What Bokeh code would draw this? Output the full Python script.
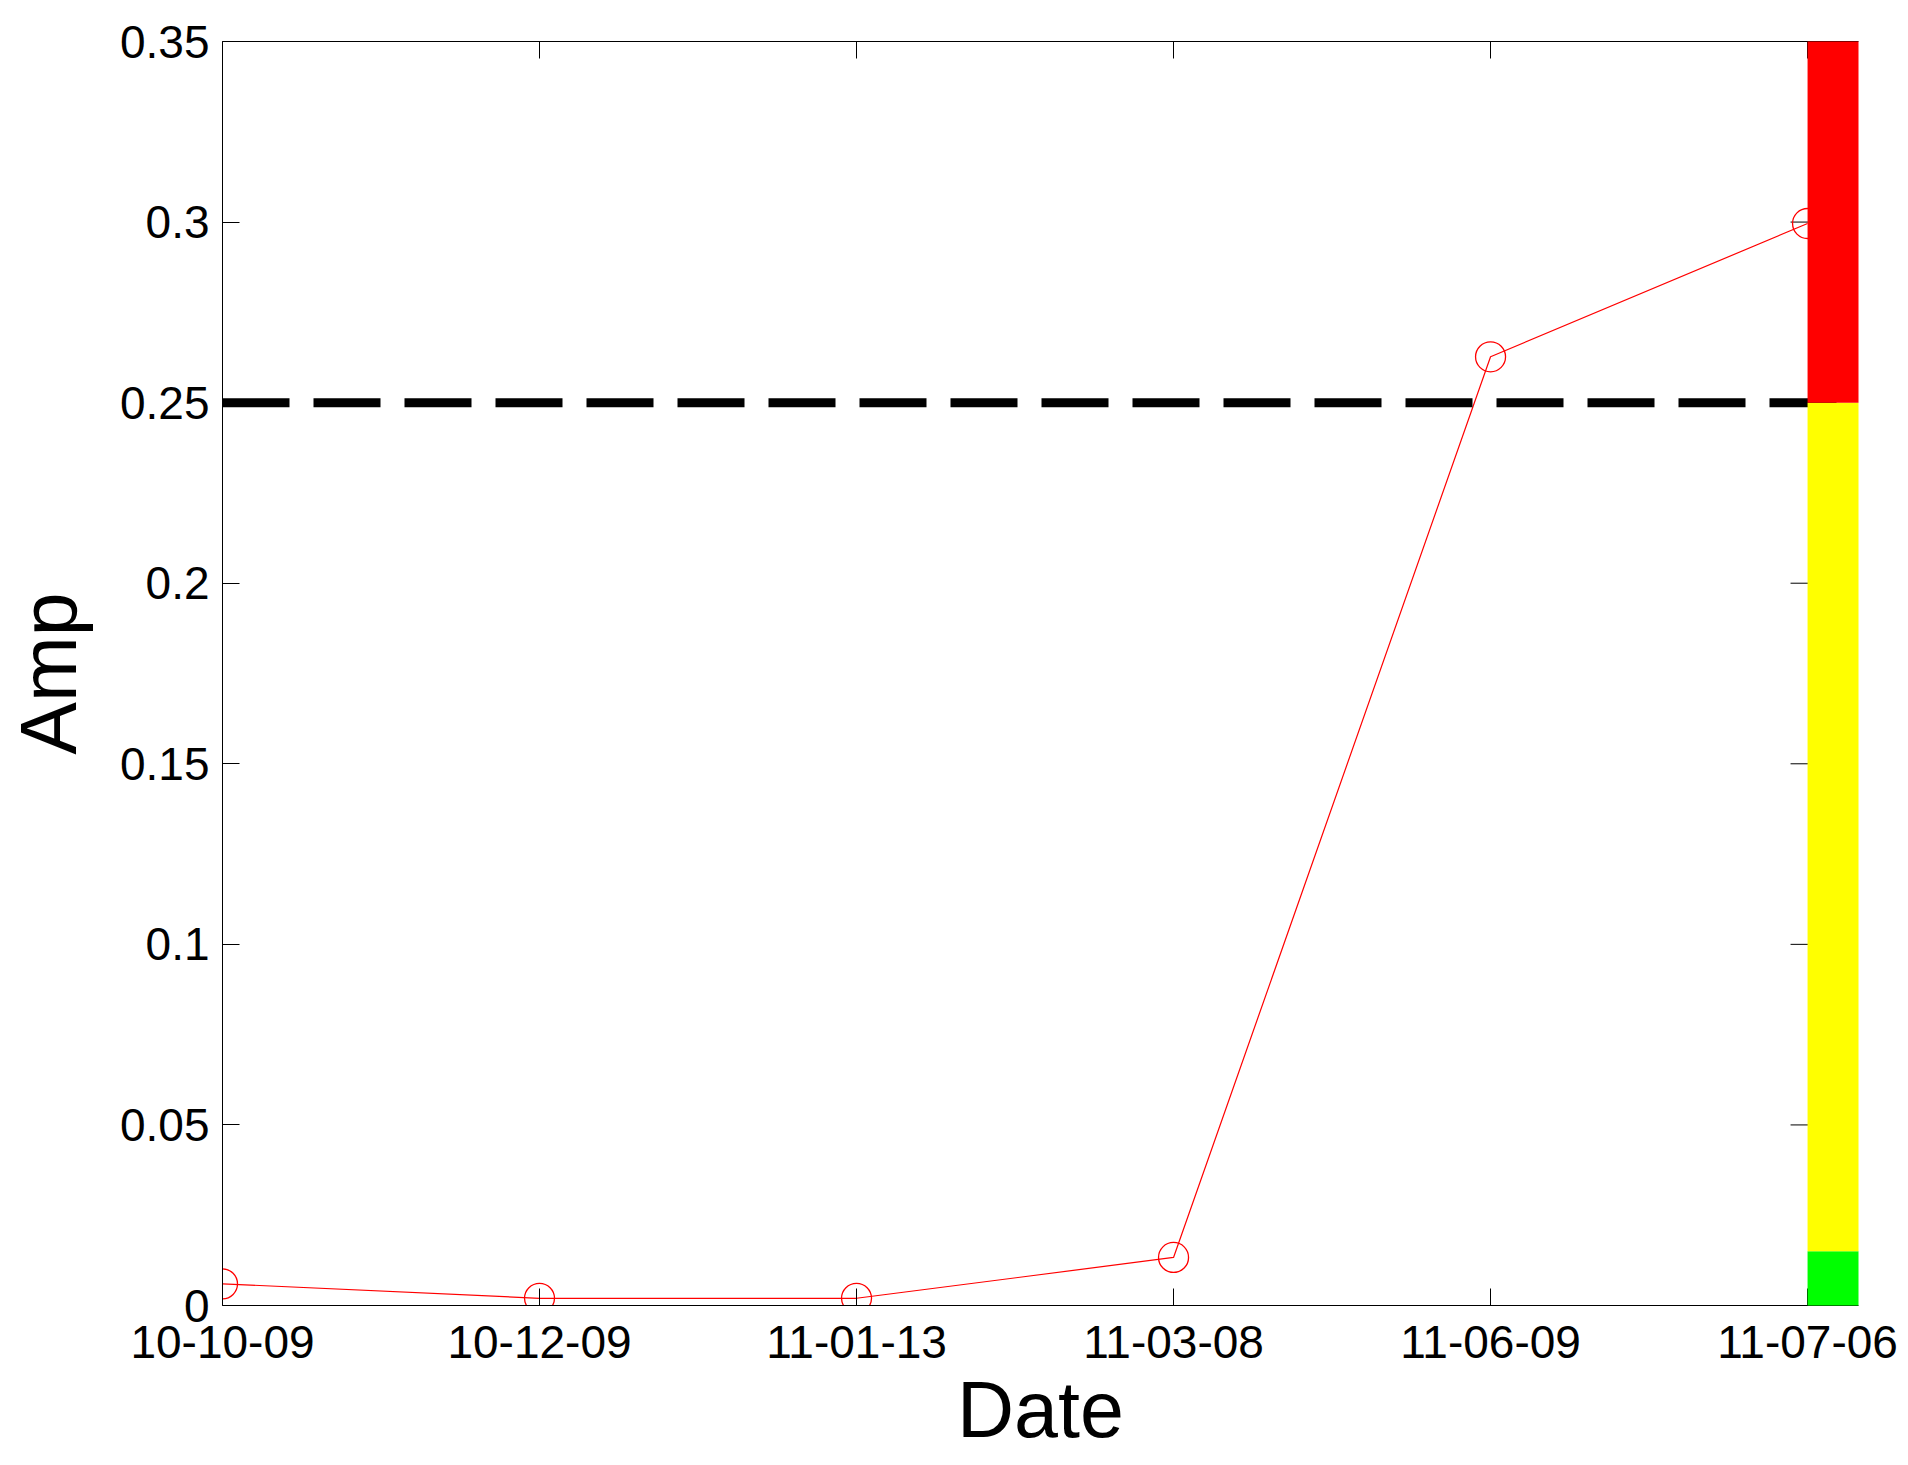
from bokeh.plotting import figure
from bokeh.models import Range1d, FixedTicker, LinearAxis, Span
from bokeh.embed import file_html
from bokeh.resources import INLINE

# ---- data ----
date_labels = ["10-10-09", "10-12-09", "11-01-13", "11-03-08", "11-06-09", "11-07-06"]
x_pos = [1, 2, 3, 4, 5, 6]
amp = [0.0060, 0.0020, 0.0020, 0.0133, 0.2627, 0.2996]

y_ticks = [0, 0.05, 0.1, 0.15, 0.2, 0.25, 0.3, 0.35]
y_tick_labels = ["0", "0.05", "0.1", "0.15", "0.2", "0.25", "0.3", "0.35"]

threshold = 0.25

band_bottoms = [0.0, 0.015, 0.25]
band_tops = [0.015, 0.25, 0.35]
band_colors = ["#00ff00", "#ffff00", "#ff0000"]

# ---- layout constants ----
FONT = "Liberation Sans"
FRAME_W = 1638
BAR_PX = 51
unit_px = (FRAME_W - BAR_PX) / 5.0
bar_w = BAR_PX / unit_px

p = figure(
    width=220 + FRAME_W + 42,
    height=41 + 1264 + 158,
    output_backend="svg",
    toolbar_location=None,
    x_range=Range1d(1, 6 + bar_w),
    y_range=Range1d(0, 0.35),
    min_border_left=220,
    min_border_right=42,
    min_border_top=41,
    min_border_bottom=158,
)
p.outline_line_color = None
p.grid.visible = False
p.background_fill_color = "white"
p.border_fill_color = "white"

# bottom axis
xa = p.xaxis[0]
xa.ticker = FixedTicker(ticks=x_pos)
xa.major_label_overrides = {x: lab for x, lab in zip(x_pos, date_labels)}
xa.axis_label = "Date"
xa.axis_label_text_font = FONT
xa.axis_label_text_font_size = "79px"
xa.axis_label_text_font_style = "normal"
xa.axis_label_text_color = "black"
xa.axis_label_standoff = 4
xa.major_label_text_font = FONT
xa.major_label_text_font_size = "46px"
xa.major_label_text_color = "black"
xa.major_label_standoff = 20
xa.major_tick_in = 17
xa.major_tick_out = 0
xa.minor_tick_in = 0
xa.minor_tick_out = 0
xa.axis_line_color = "black"
xa.major_tick_line_color = "black"

# left axis
ya = p.yaxis[0]
ya.ticker = FixedTicker(ticks=y_ticks)
ya.major_label_overrides = {t: lab for t, lab in zip(y_ticks, y_tick_labels)}
ya.axis_label = "Amp"
ya.axis_label_text_font = FONT
ya.axis_label_text_font_size = "79px"
ya.axis_label_text_font_style = "normal"
ya.axis_label_text_color = "black"
ya.axis_label_standoff = 24
ya.major_label_text_font = FONT
ya.major_label_text_font_size = "46px"
ya.major_label_text_color = "black"
ya.major_label_standoff = 13
ya.major_tick_in = 17
ya.major_tick_out = 0
ya.minor_tick_in = 0
ya.minor_tick_out = 0
ya.axis_line_color = "black"
ya.major_tick_line_color = "black"

# top axis: ticks only
top = LinearAxis(ticker=FixedTicker(ticks=x_pos))
top.major_label_overrides = {x: "" for x in x_pos}
top.major_label_text_font_size = "0px"
top.major_label_standoff = 0
top.major_tick_in = 17
top.major_tick_out = 0
top.minor_tick_in = 0
top.minor_tick_out = 0
top.axis_line_color = "black"
top.major_tick_line_color = "black"
p.add_layout(top, "above")

# right-side inward ticks at the box edge (x = last date)
p.scatter(x=[x_pos[-1]] * len(y_ticks), y=y_ticks, marker="dash", size=34,
          line_color="black", line_width=1)

# threshold dashed line
p.add_layout(Span(location=threshold, dimension="width", line_color="black",
                  line_width=9, line_dash="67 24"))

# data
p.line(x_pos, amp, line_color="#ff0000", line_width=1.2)
p.scatter(x_pos, amp, marker="circle", size=30, fill_color=None,
          line_color="#ff0000", line_width=1.3)

# colour band bar
bar = p.quad(left=[x_pos[-1]] * 3, right=[x_pos[-1] + bar_w] * 3,
             bottom=band_bottoms, top=band_tops,
             fill_color=band_colors, line_color=None)
bar.level = "overlay"

open("out.html", "w").write(file_html(p, INLINE))
